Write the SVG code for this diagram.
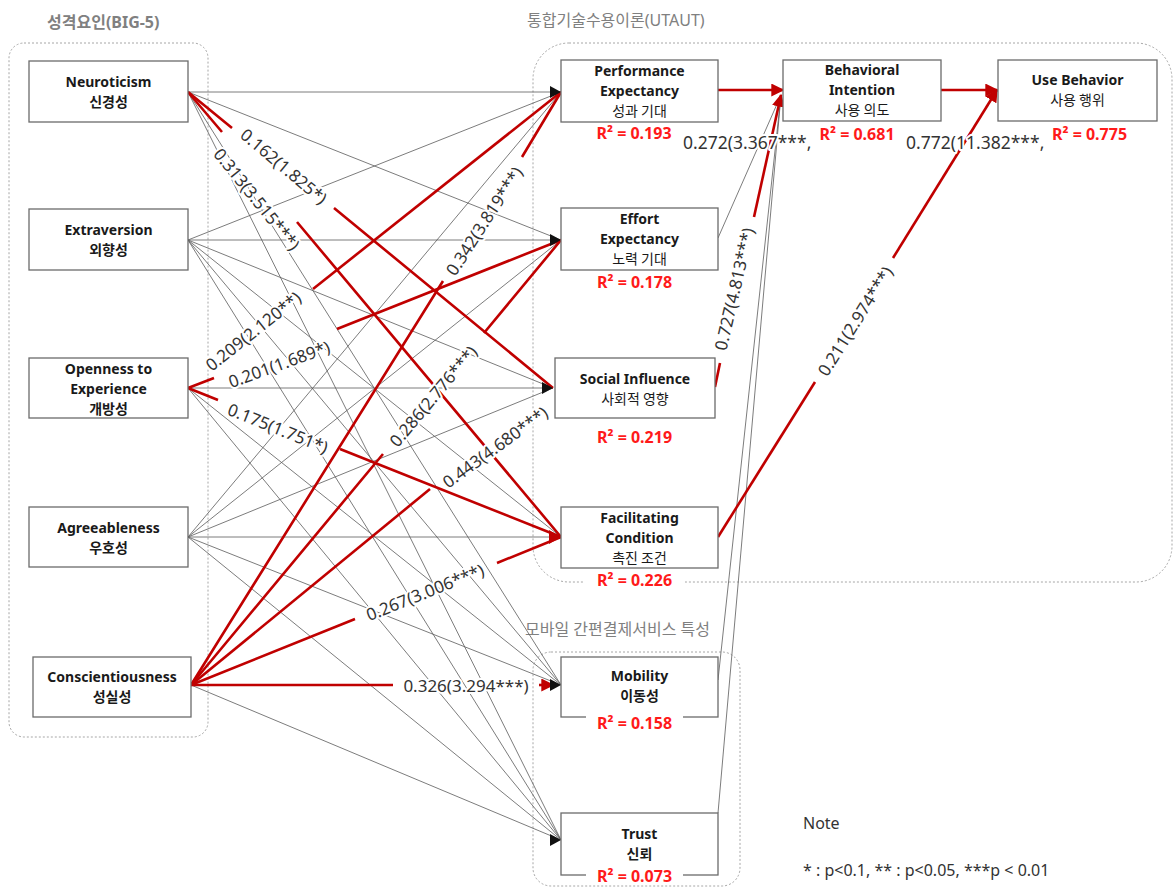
<svg xmlns="http://www.w3.org/2000/svg" width="1174" height="888" viewBox="0 0 1174 888">
<defs>
<style>
.grp{fill:none;stroke:#a6a6a6;stroke-width:1;stroke-dasharray:2 2}
.title{font-family:'Noto Sans','Noto Sans CJK KR',sans-serif;fill:#808080;font-size:16px}
.box{fill:#fff;stroke:#6b6b6b;stroke-width:1.3}
.en{font-family:'Noto Sans','Noto Sans CJK KR',sans-serif;font-weight:bold;font-size:14px;fill:#1a1a1a;text-anchor:middle}
.ko{font-family:'Noto Sans CJK KR','Noto Sans',sans-serif;font-size:14px;fill:#1a1a1a;text-anchor:middle}
.kob{font-family:'Noto Sans CJK KR','Noto Sans',sans-serif;font-weight:bold;font-size:14px;fill:#1a1a1a;text-anchor:middle}
.r2{font-family:'Noto Sans','Noto Sans CJK KR',sans-serif;font-weight:bold;font-size:16px;fill:#ff1a1a;text-anchor:middle}
.r2bg{fill:#fff}
.g{stroke:#5a5a5a;stroke-width:0.8;fill:none}
.r{stroke:#c00000;stroke-width:2.6;fill:none}
.ah{fill:#111}
.ahr{fill:#c00000}
.lbl{font-family:'Noto Sans','Noto Sans CJK KR',sans-serif;font-size:17px;fill:#333;text-anchor:middle;dominant-baseline:central;stroke:#fff;stroke-width:4;paint-order:stroke;stroke-linejoin:round}
.lbl2{font-family:'Noto Sans','Noto Sans CJK KR',sans-serif;font-size:17.5px;fill:#333;stroke:#fff;stroke-width:4;paint-order:stroke;stroke-linejoin:round}
.note{font-family:'Noto Sans','Noto Sans CJK KR',sans-serif;font-size:16px;fill:#333}
</style>
<marker id="ar" viewBox="0 0 10 10" refX="9" refY="5" markerWidth="13" markerHeight="13" markerUnits="userSpaceOnUse" orient="auto"><path d="M0,0 L10,5 L0,10 z" fill="#c00000"/></marker>
</defs>
<rect width="1174" height="888" fill="#fff"/>

<g id="groups">
<rect class="grp" x="9" y="43" width="199" height="694" rx="15"/>
<text class="title" x="47" y="28" font-weight="bold">성격요인(BIG-5)</text>
<rect class="grp" x="533" y="43" width="639" height="539" rx="36"/>
<text class="title" x="527" y="26" font-size="17">통합기술수용이론(UTAUT)</text>
<rect class="grp" x="533" y="652" width="207" height="234" rx="18"/>
<text class="title" x="525" y="635" font-size="18">모바일 간편결제서비스 특성</text>
</g>

<g id="connectors">
<!-- gray non-significant paths -->
<line class="g" x1="188" y1="92" x2="561" y2="92"/>
<line class="g" x1="188" y1="92" x2="561" y2="240"/>
<line class="g" x1="188" y1="92" x2="561" y2="685"/>
<line class="g" x1="188" y1="92" x2="561" y2="840"/>
<line class="g" x1="188" y1="240" x2="561" y2="92"/>
<line class="g" x1="188" y1="240" x2="561" y2="240"/>
<line class="g" x1="188" y1="240" x2="553" y2="388"/>
<line class="g" x1="188" y1="240" x2="561" y2="537"/>
<line class="g" x1="188" y1="240" x2="561" y2="685"/>
<line class="g" x1="188" y1="240" x2="561" y2="840"/>
<line class="g" x1="188" y1="388" x2="553" y2="388"/>
<line class="g" x1="188" y1="388" x2="561" y2="685"/>
<line class="g" x1="188" y1="388" x2="561" y2="840"/>
<line class="g" x1="188" y1="537" x2="561" y2="92"/>
<line class="g" x1="188" y1="537" x2="561" y2="240"/>
<line class="g" x1="188" y1="537" x2="553" y2="388"/>
<line class="g" x1="188" y1="537" x2="561" y2="537"/>
<line class="g" x1="188" y1="537" x2="561" y2="685"/>
<line class="g" x1="188" y1="537" x2="561" y2="840"/>
<line class="g" x1="191" y1="685" x2="561" y2="840"/>
<line class="g" x1="718" y1="238" x2="781" y2="95"/>
<line class="g" x1="718" y1="680" x2="781" y2="95"/>
<line class="g" x1="718" y1="813" x2="781" y2="95"/>

<!-- red significant paths -->
<path class="r" d="M188,92 L232,128 M334,208 L553,388"/>
<path class="r" d="M188,92 L222,132 M297,222 L561,537"/>
<path class="r" d="M313,289 L561,92"/>
<path class="r" d="M188,388 L214,378 M337,329 L561,240"/>
<path class="r" d="M188,388 L218,400 M340,449 L561,537"/>
<path class="r" d="M191,685 L443,281 M522,157 L561,92"/>
<path class="r" d="M191,685 L383,454 M484,333 L561,240"/>
<path class="r" d="M191,685 L430,489"/>
<path class="r" d="M191,685 L355,619 M497,563 L561,537"/>
<path class="r" d="M191,685 L393,685"/>
<line class="r" x1="539" y1="685" x2="553" y2="685" marker-end="url(#ar)"/>
<line class="r" x1="718" y1="90" x2="783" y2="90" marker-end="url(#ar)"/>
<line class="r" x1="941" y1="90" x2="997" y2="90" marker-end="url(#ar)"/>
<path class="r" d="M715,387 L720,363"/>
<line class="r" x1="754" y1="217" x2="781" y2="95" marker-end="url(#ar)"/>
<path class="r" d="M718,537 L815,382"/>
<line class="r" x1="893" y1="258" x2="997" y2="90" marker-end="url(#ar)"/>

<!-- arrowheads at targets -->
<path class="ah" d="M550,86 L561,92 L550,98 z"/>
<path class="ah" d="M550,234 L561,240 L550,246 z"/>
<path class="ah" d="M542,382 L553,388 L542,394 z"/>
<path class="ahr" d="M549,530 L561,537 L549,544 z"/>
<path class="ah" d="M550,679 L561,685 L550,691 z"/>
<path class="ah" d="M550,834 L561,840 L550,846 z"/>

<!-- path labels -->
<text class="lbl" x="284" y="166" transform="rotate(40 284 166)">0.162(1.825*)</text>
<text class="lbl" x="257" y="199" transform="rotate(51 257 199)">0.313(3.515***)</text>
<text class="lbl" x="253" y="331" transform="rotate(-38.4 253 331)">0.209(2.120**)</text>
<text class="lbl" x="279" y="364" transform="rotate(-20 279 364)">0.201(1.689*)</text>
<text class="lbl" x="278" y="428" transform="rotate(21.8 278 428)">0.175(1.751*)</text>
<text class="lbl" x="484" y="221" transform="rotate(-57 484 221)">0.342(3.819***)</text>
<text class="lbl" x="433" y="396" transform="rotate(-50 433 396)">0.286(2.776***)</text>
<text class="lbl" x="495" y="447" transform="rotate(-36 495 447)">0.443(4.680***)</text>
<text class="lbl" x="425" y="592" transform="rotate(-21.8 425 592)">0.267(3.006***)</text>
<text class="lbl" x="466" y="685">0.326(3.294***)</text>
<text class="lbl" x="734" y="289" transform="rotate(-77 734 289)">0.727(4.813***)</text>
<text class="lbl" x="855" y="321" transform="rotate(-58 855 321)">0.211(2.974***)</text>
<text class="lbl2" x="683" y="149">0.272(3.367***,</text>
<text class="lbl2" x="906" y="149">0.772(11.382***,</text>
</g>

<g id="node-neuroticism">
<rect class="box" x="29" y="61" width="159" height="61"/>
<text class="en" x="108.5" y="87">Neuroticism</text>
<text class="kob" x="108.5" y="107">신경성</text>
</g>
<g id="node-extraversion">
<rect class="box" x="29" y="209" width="159" height="61"/>
<text class="en" x="108.5" y="235">Extraversion</text>
<text class="kob" x="108.5" y="255">외향성</text>
</g>
<g id="node-openness">
<rect class="box" x="29" y="358" width="159" height="60"/>
<text class="en" x="108.5" y="374">Openness to</text>
<text class="en" x="108.5" y="394">Experience</text>
<text class="kob" x="108.5" y="414">개방성</text>
</g>
<g id="node-agreeableness">
<rect class="box" x="29" y="507" width="159" height="60"/>
<text class="en" x="108.5" y="533">Agreeableness</text>
<text class="kob" x="108.5" y="553">우호성</text>
</g>
<g id="node-conscientiousness">
<rect class="box" x="33" y="657" width="158" height="60"/>
<text class="en" x="112" y="682">Conscientiousness</text>
<text class="kob" x="112" y="702">성실성</text>
</g>

<g id="node-pe">
<rect class="box" x="561" y="60" width="157" height="62"/>
<text class="en" x="639.5" y="76">Performance</text>
<text class="en" x="639.5" y="96">Expectancy</text>
<text class="ko" x="639.5" y="116">성과 기대</text>
<rect class="r2bg" x="592" y="125" width="84" height="18"/>
<text class="r2" x="634" y="139">R² = 0.193</text>
</g>
<g id="node-ee">
<rect class="box" x="561" y="208" width="157" height="62"/>
<text class="en" x="639.5" y="224">Effort</text>
<text class="en" x="639.5" y="244">Expectancy</text>
<text class="ko" x="639.5" y="264">노력 기대</text>
<text class="r2" x="634.5" y="288">R² = 0.178</text>
</g>
<g id="node-si">
<rect class="box" x="555" y="358" width="160" height="60"/>
<text class="en" x="635" y="384">Social Influence</text>
<text class="ko" x="635" y="404">사회적 영향</text>
<text class="r2" x="634.5" y="443">R² = 0.219</text>
</g>
<g id="node-fc">
<rect class="box" x="561" y="507" width="157" height="61"/>
<text class="en" x="639.5" y="523">Facilitating</text>
<text class="en" x="639.5" y="543">Condition</text>
<text class="ko" x="639.5" y="563">촉진 조건</text>
<rect class="r2bg" x="584" y="572" width="101" height="18"/>
<text class="r2" x="634.5" y="586">R² = 0.226</text>
</g>
<g id="node-bi">
<rect class="box" x="783" y="60" width="158" height="61"/>
<text class="en" x="862" y="75">Behavioral</text>
<text class="en" x="862" y="95">Intention</text>
<text class="ko" x="862" y="115">사용 의도</text>
<text class="r2" x="857" y="140">R² = 0.681</text>
</g>
<g id="node-ub">
<rect class="box" x="998" y="60" width="159" height="61"/>
<text class="en" x="1077.5" y="85">Use Behavior</text>
<text class="ko" x="1077.5" y="105">사용 행위</text>
<text class="r2" x="1089.5" y="140">R² = 0.775</text>
</g>
<g id="node-mobility">
<rect class="box" x="561" y="657" width="157" height="60"/>
<text class="en" x="639.5" y="681">Mobility</text>
<text class="kob" x="639.5" y="701">이동성</text>
<rect class="r2bg" x="586" y="713" width="97" height="18"/>
<text class="r2" x="634.5" y="729">R² = 0.158</text>
</g>
<g id="node-trust">
<rect class="box" x="561" y="813" width="157" height="62"/>
<text class="en" x="639.5" y="839">Trust</text>
<text class="kob" x="639.5" y="859">신뢰</text>
<rect class="r2bg" x="586" y="866" width="97" height="19"/>
<text class="r2" x="634.5" y="882">R² = 0.073</text>
</g>

<g id="note">
<text class="note" x="803" y="829">Note</text>
<text class="note" x="803" y="876">* : p&lt;0.1, ** : p&lt;0.05, ***p &lt; 0.01</text>
</g>
</svg>
